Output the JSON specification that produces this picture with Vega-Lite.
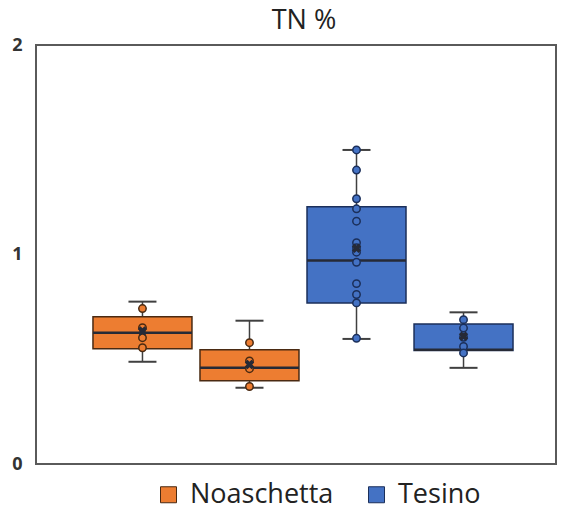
{
  "$schema": "https://vega.github.io/schema/vega-lite/v6.json",
  "width": 520,
  "height": 419,
  "autosize": {"type": "none"},
  "padding": {"left": 36, "top": 45, "right": 6, "bottom": 48},
  "background": "white",
  "title": {"text": "TN %", "font": "Open Sans", "fontSize": 27, "fontWeight": "normal", "color": "#222", "offset": 1, "dx": 8},
  "config": {
    "view": {"stroke": "#5a5a5a", "strokeWidth": 2},
    "legend": {"orient": "none", "legendX": 119, "legendY": 436, "direction": "horizontal", "symbolType": "square", "symbolSize": 256, "symbolStrokeWidth": 1, "labelFont": "Open Sans", "labelFontSize": 27, "labelColor": "#222", "labelOffset": 8, "columnPadding": 29, "padding": 0}
  },
  "datasets": {
    "boxes": [
      {"grp": "N1", "site": "Noaschetta", "lo": 0.488, "q1": 0.55, "med": 0.627, "q3": 0.703, "hi": 0.775, "mean": 0.635},
      {"grp": "N2", "site": "Noaschetta", "lo": 0.364, "q1": 0.397, "med": 0.459, "q3": 0.545, "hi": 0.684, "mean": 0.475},
      {"grp": "T1", "site": "Tesino", "lo": 0.597, "q1": 0.769, "med": 0.971, "q3": 1.228, "hi": 1.499, "mean": 1.03},
      {"grp": "T2", "site": "Tesino", "lo": 0.459, "q1": 0.542, "med": 0.545, "q3": 0.668, "hi": 0.724, "mean": 0.61}
    ],
    "points": [
      {"grp": "N1", "site": "Noaschetta", "value": 0.742},
      {"grp": "N1", "site": "Noaschetta", "value": 0.651},
      {"grp": "N1", "site": "Noaschetta", "value": 0.603},
      {"grp": "N1", "site": "Noaschetta", "value": 0.555},
      {"grp": "N2", "site": "Noaschetta", "value": 0.579},
      {"grp": "N2", "site": "Noaschetta", "value": 0.492},
      {"grp": "N2", "site": "Noaschetta", "value": 0.455},
      {"grp": "N2", "site": "Noaschetta", "value": 0.37},
      {"grp": "T1", "site": "Tesino", "value": 1.499},
      {"grp": "T1", "site": "Tesino", "value": 1.403},
      {"grp": "T1", "site": "Tesino", "value": 1.266},
      {"grp": "T1", "site": "Tesino", "value": 1.218},
      {"grp": "T1", "site": "Tesino", "value": 1.159},
      {"grp": "T1", "site": "Tesino", "value": 1.056},
      {"grp": "T1", "site": "Tesino", "value": 1.032},
      {"grp": "T1", "site": "Tesino", "value": 1.011},
      {"grp": "T1", "site": "Tesino", "value": 0.963},
      {"grp": "T1", "site": "Tesino", "value": 0.861},
      {"grp": "T1", "site": "Tesino", "value": 0.809},
      {"grp": "T1", "site": "Tesino", "value": 0.769},
      {"grp": "T1", "site": "Tesino", "value": 0.6},
      {"grp": "T2", "site": "Tesino", "value": 0.689},
      {"grp": "T2", "site": "Tesino", "value": 0.649},
      {"grp": "T2", "site": "Tesino", "value": 0.605},
      {"grp": "T2", "site": "Tesino", "value": 0.561},
      {"grp": "T2", "site": "Tesino", "value": 0.53}
    ]
  },
  "encoding": {
    "x": {"field": "grp", "type": "nominal", "axis": null,
      "scale": {"type": "band", "domain": ["N1", "N2", "T1", "T2"], "paddingInner": 0.075, "paddingOuter": 0.467, "align": 0.57}}
  },
  "layer": [
    {
      "data": {"name": "boxes"},
      "mark": {"type": "rule", "color": "#404040", "strokeWidth": 1.5},
      "encoding": {
        "y": {"field": "lo", "type": "quantitative", "scale": {"domain": [0, 2], "nice": false},
          "axis": {"values": [0, 1, 2], "format": ".0f", "title": null, "domain": false, "ticks": false, "grid": false, "labelOverlap": false, "labelPadding": 14, "labelFont": "Open Sans", "labelFontSize": 18, "labelFontWeight": "bold", "labelColor": "#333"}},
        "y2": {"field": "hi"}
      }
    },
    {
      "data": {"name": "boxes"},
      "mark": {"type": "tick", "color": "#404040", "size": 28, "thickness": 2, "opacity": 1},
      "encoding": {"y": {"field": "lo", "type": "quantitative"}}
    },
    {
      "data": {"name": "boxes"},
      "mark": {"type": "tick", "color": "#404040", "size": 28, "thickness": 2, "opacity": 1},
      "encoding": {"y": {"field": "hi", "type": "quantitative"}}
    },
    {
      "data": {"name": "boxes"},
      "mark": {"type": "bar", "strokeWidth": 1.5, "opacity": 1},
      "encoding": {
        "y": {"field": "q1", "type": "quantitative"},
        "y2": {"field": "q3"},
        "color": {"field": "site", "type": "nominal", "title": null, "scale": {"domain": ["Noaschetta", "Tesino"], "range": ["#ED7D31", "#4472C4"]}},
        "stroke": {"field": "site", "type": "nominal", "title": null, "scale": {"domain": ["Noaschetta", "Tesino"], "range": ["#4a2a12", "#1b2f5a"]}}
      }
    },
    {
      "data": {"name": "boxes"},
      "mark": {"type": "tick", "size": 99, "thickness": 2.5, "opacity": 1, "color": "#262a36"},
      "encoding": {
        "y": {"field": "med", "type": "quantitative"}
      }
    },
    {
      "data": {"name": "points"},
      "mark": {"type": "point", "filled": true, "size": 55, "strokeWidth": 1.5, "opacity": 1},
      "encoding": {
        "y": {"field": "value", "type": "quantitative"},
        "color": {"field": "site", "type": "nominal", "title": null},
        "stroke": {"field": "site", "type": "nominal", "title": null}
      }
    },
    {
      "data": {"name": "boxes"},
      "mark": {"type": "point", "shape": "cross", "angle": 45, "filled": true, "size": 90, "opacity": 1, "color": "#262a36"},
      "encoding": {
        "y": {"field": "mean", "type": "quantitative"}
      }
    }
  ]
}
